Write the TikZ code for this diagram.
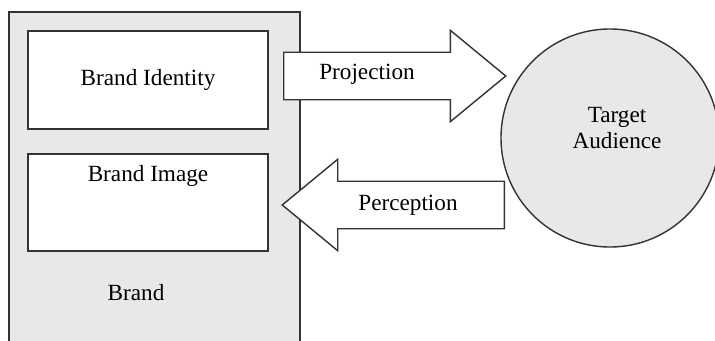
\documentclass[tikz,border=0pt]{standalone}
\usepackage{fontspec}
\setmainfont{Liberation Serif}
\usetikzlibrary{shapes.arrows}
\definecolor{panelgray}{HTML}{E8E8E9}
\definecolor{edgegray}{HTML}{333333}
\tikzset{
	box/.style={draw=edgegray, line width=1pt, rectangle, inner sep=0pt},
	blockarrow/.style={draw=edgegray, line width=1pt, fill=white, single arrow,
		single arrow tip angle=79, single arrow head extend=0.55cm,
		single arrow head indent=0cm, inner xsep=0cm, inner ysep=0.575cm,
		minimum width=2.25cm, minimum height=5.55cm},
	lbl/.style={text=black, font=\fontsize{16.5}{19}\selectfont, inner sep=0pt, align=center}
}
\begin{document}
\begin{tikzpicture}[x=0.025cm, y=-0.025cm]
	\useasboundingbox (0,0) rectangle (715,341);
	% brand panel
	\node[box, fill=panelgray, minimum width=7.275cm, minimum height=8.7cm] (brand) at (154.5,186) {};
	\node[box, fill=white, minimum width=6cm, minimum height=2.45cm] (identity) at (148,80) {};
	\node[box, fill=white, minimum width=6cm, minimum height=2.425cm] (image) at (148,202.5) {};
	\node[lbl] (identitytext) at (identity.center) {Brand Identity};
	\node[lbl] (imagetext) at (148,176) {Brand Image};
	\node[lbl] (brandtext) at (136,293) {Brand};
	% audience
	\node[draw=edgegray, line width=1pt, fill=panelgray, circle, minimum size=5.45cm, inner sep=0pt] (audience) at (610,138) {};
	\node[lbl] (audiencetext) at (617,128) {Target\\[-1pt]Audience};
	% arrows
	\node[blockarrow, anchor=tail] (projection) at (283,76) {};
	\node[blockarrow, shape border rotate=180, anchor=tail] (perception) at (505,205) {};
	\node[lbl] (projectiontext) at (367,74) {Projection};
	\node[lbl] (perceptiontext) at (408,205) {Perception};
\end{tikzpicture}
\end{document}
